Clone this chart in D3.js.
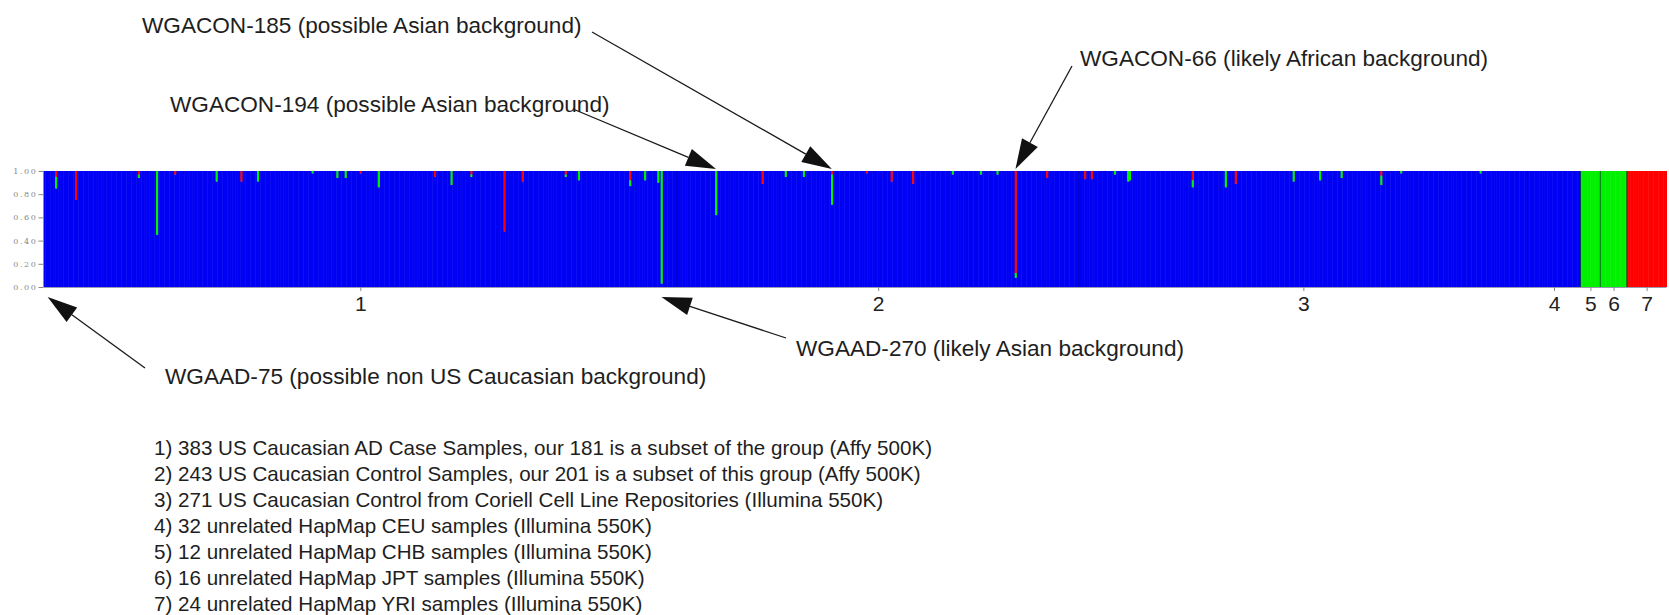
<!DOCTYPE html>
<html>
<head>
<meta charset="utf-8">
<script src="https://cdn.jsdelivr.net/npm/d3@7"></script>
<style>
  html, body { margin: 0; padding: 0; background: #fff; }
  svg { display: block; font-family: "Liberation Sans", Arial, sans-serif; }
</style>
</head>
<body>
<svg id="chart" width="1669" height="615"></svg>
<script>
// Population groups, in plotting order
const groupLabels = ["1", "2", "3", "4", "5", "6", "7"];
const groupSizes = [383, 243, 271, 32, 12, 16, 24];
// Typical membership of each group in the three clusters: [blue, green, red]
const groupBase = [[1, 0, 0], [1, 0, 0], [1, 0, 0], [1, 0, 0], [0, 1, 0], [0, 1, 0], [0, 0, 1]];

// Individuals that depart from their group's typical membership: [sample, green, red]
const admix1 = [
  [7, 0.10, 0.05], [19, 0.00, 0.25], [57, 0.03, 0.03], [68, 0.55, 0.00], [79, 0.00, 0.03],
  [104, 0.09, 0.00], [119, 0.00, 0.09], [129, 0.09, 0.00], [162, 0.02, 0.00], [177, 0.06, 0.00],
  [182, 0.06, 0.00], [191, 0.00, 0.02], [202, 0.14, 0.00], [236, 0.00, 0.05], [246, 0.12, 0.00],
  [258, 0.02, 0.03], [278, 0.00, 0.52], [289, 0.00, 0.09], [315, 0.02, 0.03], [323, 0.08, 0.00],
  [354, 0.05, 0.08], [363, 0.08, 0.00], [371, 0.10, 0.00], [373, 0.97, 0.00]
];
const admix2 = [
  [23, 0.38, 0.00], [51, 0.00, 0.11], [65, 0.05, 0.00], [76, 0.05, 0.00], [93, 0.26, 0.03],
  [114, 0.00, 0.02], [129, 0.00, 0.09], [142, 0.00, 0.11], [166, 0.03, 0.00], [183, 0.03, 0.00],
  [193, 0.03, 0.00], [204, 0.04, 0.88], [223, 0.00, 0.06]
];
const admix3 = [
  [3, 0.00, 0.07], [7, 0.00, 0.07], [21, 0.03, 0.00], [29, 0.09, 0.00], [30, 0.08, 0.00],
  [68, 0.06, 0.08], [88, 0.14, 0.00], [94, 0.00, 0.11], [129, 0.09, 0.00], [145, 0.08, 0.00],
  [158, 0.06, 0.00], [182, 0.08, 0.04], [194, 0.02, 0.00], [242, 0.02, 0.00]
];
const admixByGroup = [admix1, admix2, admix3, [], [], [], []];

// Cluster colours
const clusterKeys = ["blue", "green", "red"];
const clusterColors = ["#0000f4", "#00f000", "#ff0000"];

// y-axis ticks
const yTicks = [0, 0.2, 0.4, 0.6, 0.8, 1.0];

// Legend text
const legendLines = [
  "1) 383 US Caucasian AD Case Samples, our 181 is a subset of the group (Affy 500K)",
  "2) 243 US Caucasian Control Samples, our 201 is a subset of this group (Affy 500K)",
  "3) 271 US Caucasian Control from Coriell Cell Line Repositories (Illumina 550K)",
  "4) 32 unrelated HapMap CEU samples (Illumina 550K)",
  "5) 12 unrelated HapMap CHB samples (Illumina 550K)",
  "6) 16 unrelated HapMap JPT samples (Illumina 550K)",
  "7) 24 unrelated HapMap YRI samples (Illumina 550K)"
];

// Call-outs for individual samples: group, sample within group, label placement
const callouts = [
  { text: "WGACON-185 (possible Asian background)", group: 1, sample: 93, side: "top", tx: 142, ty: 33, lx: 592, ly: 32 },
  { text: "WGACON-194 (possible Asian background)", group: 1, sample: 23, side: "top", tx: 170, ty: 112, lx: 573, ly: 109 },
  { text: "WGACON-66 (likely African background)", group: 1, sample: 204, side: "top", tx: 1080, ty: 66, lx: 1072, ly: 66 },
  { text: "WGAAD-75 (possible non US Caucasian background)", group: 0, sample: 2, side: "bottom", tx: 165, ty: 384, lx: 145, ly: 368 },
  { text: "WGAAD-270 (likely Asian background)", group: 0, sample: 373, side: "bottom", tx: 796, ty: 356, lx: 786, ly: 338 }
];

// ---- build per-individual records ----
const individuals = [];
const groupStart = [];
groupSizes.forEach((n, g) => {
  groupStart.push(individuals.length);
  const extra = new Map(admixByGroup[g].map(d => [d[0], d]));
  for (let i = 0; i < n; i++) {
    const rec = { id: individuals.length, group: g };
    if (extra.has(i)) {
      const [, gr, rd] = extra.get(i);
      rec.green = gr; rec.red = rd; rec.blue = Math.max(0, 1 - gr - rd);
    } else {
      rec.blue = groupBase[g][0]; rec.green = groupBase[g][1]; rec.red = groupBase[g][2];
    }
    individuals.push(rec);
  }
});
const N = individuals.length;

// ---- layout ----
const svg = d3.select("#chart");
const plot = { left: 43.5, right: 1666.5, top: 171, bottom: 287 };

const x = d3.scaleBand().domain(d3.range(N)).range([plot.left, plot.right]).padding(0);
const y = d3.scaleLinear().domain([0, 1]).range([plot.bottom, plot.top]);
const bw = x.bandwidth();

svg.append("rect").attr("width", 1669).attr("height", 615).attr("fill", "#fff");

// ---- stacked membership bars ----
const stacked = d3.stack().keys(clusterKeys)(individuals);
const layers = svg.append("g").selectAll("g")
  .data(stacked)
  .join("g")
  .attr("fill", (d, i) => clusterColors[i]);

layers.selectAll("rect")
  .data(d => d.filter(s => s[1] - s[0] > 0))
  .join("rect")
  .attr("x", s => x(s.data.id))
  .attr("width", bw + 0.5)
  .attr("y", s => y(s[1]))
  .attr("height", s => y(s[0]) - y(s[1]));

// group separators
const boundaries = groupStart.slice(1);
svg.append("g").selectAll("line")
  .data(boundaries)
  .join("line")
  .attr("x1", d => x(d)).attr("x2", d => x(d))
  .attr("y1", plot.top).attr("y2", plot.bottom)
  .attr("stroke", "#00003a").attr("stroke-opacity", 0.55).attr("stroke-width", 1);

// ---- axes ----
const yAxis = d3.axisLeft(y).tickValues(yTicks).tickFormat(d3.format(".2f")).tickSize(5).tickPadding(1);
const gy = svg.append("g").attr("transform", `translate(${plot.left},0)`).call(yAxis);
gy.select(".domain").remove();
gy.selectAll(".tick line").attr("stroke", "#888");
gy.selectAll(".tick text").attr("fill", "#888").style("font-size", "8px").style("letter-spacing", "1.6px")
  .style("font-family", "'DejaVu Serif', serif");

const centers = groupSizes.map((n, g) => x(groupStart[g]) + (n * bw) / 2);
const xAxis = d3.axisBottom(d3.scaleLinear().domain([0, 1669]).range([0, 1669]))
  .tickValues(centers).tickFormat((d, i) => groupLabels[i]).tickSize(4).tickPadding(5);
const gx = svg.append("g").attr("transform", `translate(0,${plot.bottom})`).call(xAxis);
gx.select(".domain").attr("d", `M${plot.left},0.5H${plot.right}`).attr("stroke", "#9a9ab0");
gx.selectAll(".tick line").attr("stroke", "#888");
gx.selectAll(".tick text").attr("fill", "#222").style("font-size", "21px")
  .style("font-family", "'Liberation Sans', Arial, sans-serif");

// ---- call-outs ----
const notes = svg.append("g");
callouts.forEach(c => {
  const id = groupStart[c.group] + c.sample;
  const tipX = x(id) + bw / 2;
  const tipY = c.side === "top" ? plot.top - 2 : plot.bottom + 10;
  const dx = tipX - c.lx, dy = tipY - c.ly;
  const len = Math.hypot(dx, dy);
  const ux = dx / len, uy = dy / len;
  const headLen = 30, headHalf = 9;
  const bx = tipX - ux * headLen, by = tipY - uy * headLen;
  notes.append("line")
    .attr("x1", c.lx).attr("y1", c.ly).attr("x2", bx).attr("y2", by)
    .attr("stroke", "#1a1a1a").attr("stroke-width", 1.3);
  notes.append("path")
    .attr("d", `M${tipX},${tipY}L${bx - uy * headHalf},${by + ux * headHalf}L${bx + uy * headHalf},${by - ux * headHalf}Z`)
    .attr("fill", "#111");
  notes.append("text")
    .attr("x", c.tx).attr("y", c.ty)
    .attr("fill", "#1e1e1e")
    .style("font-size", "22.6px")
    .text(c.text);
});

// ---- legend ----
svg.append("g").selectAll("text")
  .data(legendLines)
  .join("text")
  .attr("x", 154)
  .attr("y", (d, i) => 455 + i * 26)
  .attr("fill", "#1e1e1e")
  .style("font-size", "20.6px")
  .text(d => d);
</script>
</body>
</html>
